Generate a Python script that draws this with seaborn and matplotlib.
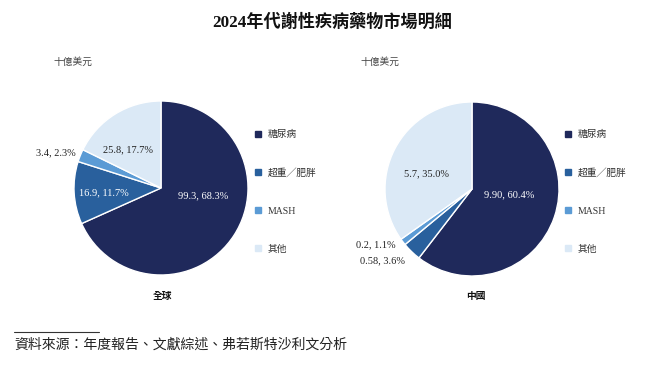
import matplotlib
matplotlib.use("Agg")
import matplotlib.pyplot as plt
import seaborn as sns
from matplotlib.lines import Line2D

# data
categories = ["糖尿病", "超重╱肥胖", "MASH", "其他"]
global_values = [99.3, 16.9, 3.4, 25.8]
global_pct = [68.3, 11.7, 2.3, 17.7]
china_values = ["9.90", "0.58", "0.2", "5.7"]
china_pct = [60.4, 3.6, 1.1, 35.0]
colors = ["#1f295b", "#29609d", "#5b9bd5", "#dbe9f6"]

sns.set_theme(style="white")
plt.rcParams["font.family"] = ["Liberation Serif", "Noto Sans CJK TC"]

W, H = 645, 370
fig = plt.figure(figsize=(W / 100, H / 100), dpi=100)


def px_axes(cx, cy, r):
    return fig.add_axes([(cx - r) / W, (H - cy - r) / H, 2 * r / W, 2 * r / H])


def draw_pie(ax, sizes, labels, label_pos, label_colors):
    wedges, _ = ax.pie(sizes, colors=colors, startangle=90, counterclock=False,
                       radius=1, wedgeprops=dict(edgecolor="white", linewidth=1))
    ax.set_xlim(-1, 1)
    ax.set_ylim(-1, 1)
    ax.set_aspect("equal")
    ax.axis("off")
    for txt, (x, y), c in zip(labels, label_pos, label_colors):
        ax.text(x, y, txt, ha="center", va="center", fontsize=7.5, color=c)


def draw_legend(x, y):
    handles = [Line2D([0], [0], marker="s", linestyle="", markersize=4.2,
                      markerfacecolor=c, markeredgecolor=c) for c in colors]
    leg = fig.legend(handles, categories, loc="upper left",
                     bbox_to_anchor=(x / W, 1 - y / H), frameon=False,
                     fontsize=7, labelspacing=2.98, handlelength=0.6,
                     handletextpad=0.7, borderpad=0, borderaxespad=0)
    for t in leg.get_texts():
        t.set_color("#333333")


# global pie
ax1 = px_axes(161, 188, 87)
g_labels = [f"{v}, {p}%" for v, p in zip(global_values, global_pct)]
draw_pie(ax1, global_values, g_labels,
         [(0.48, -0.09), (-0.66, -0.05), (-1.21, 0.40), (-0.38, 0.44)],
         ["white", "white", "#222222", "#222222"])

# china pie
ax2 = px_axes(472, 189, 87)
c_labels = [f"{v}, {p}%" for v, p in zip(china_values, china_pct)]
draw_pie(ax2, [float(v) for v in china_values], c_labels,
         [(0.43, -0.07), (-1.03, -0.82), (-1.11, -0.64), (-0.52, 0.17)],
         ["white", "#222222", "#222222", "#222222"])

draw_legend(255, 130)
draw_legend(565, 130)

fig.text(332 / W, 1 - 22 / H, "2024年代謝性疾病藥物市場明細", ha="center", va="center",
         fontsize=12.3, fontweight="bold", color="#111111")
fig.text(53 / W, 1 - 62 / H, "十億美元", ha="left", va="center", fontsize=7, color="#444444")
fig.text(360 / W, 1 - 62 / H, "十億美元", ha="left", va="center", fontsize=7, color="#444444")
fig.text(163 / W, 1 - 296 / H, "全球", ha="center", va="center", fontsize=7,
         fontweight="bold", family="Noto Sans CJK TC", color="#111111")
fig.text(476 / W, 1 - 296 / H, "中國", ha="center", va="center", fontsize=7,
         fontweight="bold", family="Noto Sans CJK TC", color="#111111")

# source note
fig.add_artist(Line2D([14 / W, 99 / W], [1 - 332 / H, 1 - 332 / H], color="#333333", linewidth=0.8))
fig.text(14 / W, 1 - 345 / H, "資料來源：年度報告、文獻綜述、弗若斯特沙利文分析", ha="left",
         va="center", fontsize=10, style="italic", color="#222222")

fig.savefig("out.png", dpi=100)
